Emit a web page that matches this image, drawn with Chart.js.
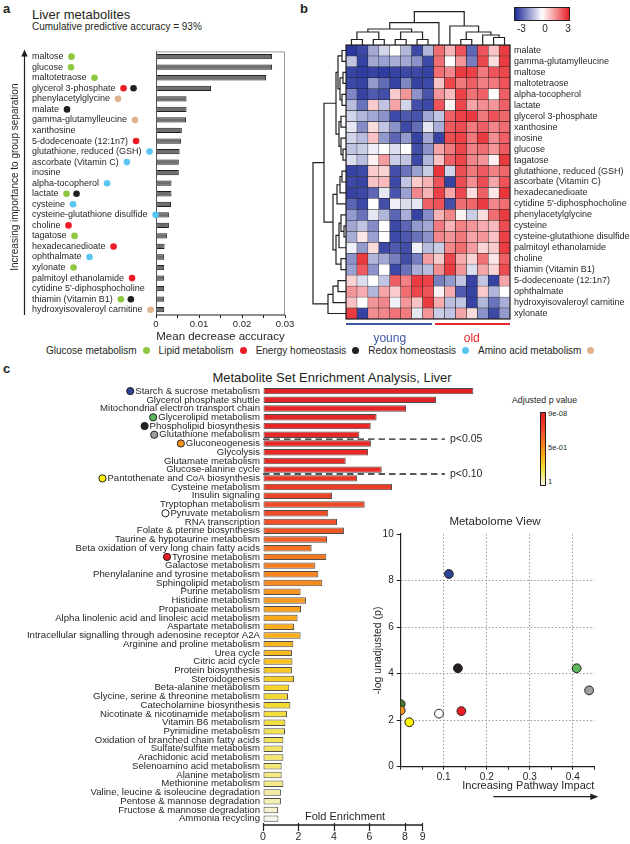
<!DOCTYPE html>
<html>
<head>
<meta charset="utf-8">
<script src="https://cdn.jsdelivr.net/npm/chart.js@4.4.1/dist/chart.umd.min.js"></script>
<style>
  body { margin: 0; background: #fff; font-family: "Liberation Sans", Arial, sans-serif; color: #231f20; }
  #page { position: relative; width: 630px; height: 844px; overflow: hidden; }
  #page canvas { position: absolute; }
  .t { position: absolute; line-height: 1; white-space: nowrap; }
  .letter { font-weight: bold; font-size: 13px; }
</style>
</head>
<body>
<div id="page">
  <!-- panel a -->
  <div class="t letter" style="left:3px;top:2px">a</div>
  <div class="t" style="left:32px;top:7.7px;font-size:13px">Liver metabolites</div>
  <div class="t" style="left:32px;top:22.3px;font-size:10px">Cumulative predictive accuracy = 93%</div>
  <canvas id="chartA" width="300" height="305" style="left:0;top:40px"></canvas>
  <div id="legendA" class="t" style="left:46px;top:345.5px;font-size:10px;display:flex;align-items:center"></div>

  <!-- panel b -->
  <div class="t letter" style="left:300px;top:2px">b</div>
  <canvas id="chartB" width="330" height="345" style="left:300px;top:0"></canvas>
  <canvas id="colTree" width="176" height="42" style="left:340px;top:6px"></canvas>
  <canvas id="rowTree" width="44" height="284" style="left:306px;top:40px"></canvas>
  <div id="heatBar" style="position:absolute;left:514px;top:7px;width:56px;height:14px;box-sizing:border-box;border:1px solid #231f20"></div>
  <div class="t" style="left:517px;top:24.1px;font-size:10px">-3</div>
  <div class="t" style="left:542.2px;top:24.1px;font-size:10px">0</div>
  <div class="t" style="left:565.2px;top:24.1px;font-size:10px">3</div>

  <!-- panel c -->
  <div class="t letter" style="left:3px;top:362px">c</div>
  <div class="t" style="left:132px;width:400px;text-align:center;top:370.5px;font-size:13px">Metabolite Set Enrichment Analysis, Liver</div>
  <canvas id="chartC" width="500" height="466" style="left:0;top:378px"></canvas>
  <div class="t" style="left:305px;top:811px;font-size:11px">Fold Enrichment</div>
  <div class="t" style="left:512px;top:396px;font-size:8.8px">Adjusted p value</div>
  <div id="pBar" style="position:absolute;left:540px;top:411.7px;width:6px;height:74px;box-sizing:border-box;border:1px solid #231f20"></div>
  <div class="t" style="left:548px;top:409.5px;font-size:7.5px">9e-08</div>
  <div class="t" style="left:548px;top:443.5px;font-size:7.5px">5e-01</div>
  <div class="t" style="left:548px;top:478px;font-size:7.5px">1</div>
  <div class="t" style="left:395px;width:200px;text-align:center;top:516px;font-size:11.5px">Metabolome View</div>
  <canvas id="chartD" width="270" height="295" style="left:360px;top:510px"></canvas>
</div>

<script>
const FONT = '"Liberation Sans", Arial, sans-serif';
const INK = '#231f20';
Chart.defaults.font.family = FONT;
Chart.defaults.color = INK;
Chart.defaults.animation = false;
Chart.defaults.plugins.legend.display = false;
Chart.defaults.plugins.tooltip.enabled = false;

// ---------- panel a data ----------
const metabolites = ['maltose', 'glucose', 'maltotetraose', 'glycerol 3-phosphate', 'phenylacetylglycine', 'malate',
  'gamma-glutamylleucine', 'xanthosine', '5-dodecenoate (12:1n7)', 'glutathione, reduced (GSH)', 'ascorbate (Vitamin C)',
  'inosine', 'alpha-tocopherol', 'lactate', 'cysteine', 'cysteine-glutathione disulfide', 'choline', 'tagatose',
  'hexadecanedioate', 'ophthalmate', 'xylonate', 'palmitoyl ethanolamide', 'cytidine 5\'-diphosphocholine',
  'thiamin (Vitamin B1)', 'hydroxyisovaleroyl carnitine'];
const meanDecreaseAccuracy = [0.027, 0.027, 0.0256, 0.0128, 0.0071, 0.0071, 0.0070, 0.0060, 0.0058, 0.0055, 0.0053,
  0.0053, 0.0036, 0.0036, 0.0035, 0.0030, 0.0030, 0.0026, 0.0020, 0.0019, 0.0019, 0.0019, 0.0019, 0.0019, 0.0019];
// 0 glucose, 1 lipid, 2 energy, 3 redox, 4 amino acid
const metaboliteTags = [[0], [0], [0], [1, 2], [4], [2], [4], [], [1], [3], [3], [], [3], [0, 2], [3], [3], [1], [0],
  [1], [3], [0], [1], [], [0, 2], [4]];
const tagNames = ['Glucose metabolism', 'Lipid metabolism', 'Energy homeostasis', 'Redox homeostasis', 'Amino acid metabolism'];
const tagColors = ['#8dc63f', '#ed1c24', '#231f20', '#5bc5f2', '#dfb48c'];
const sideTitle = 'Increasing importance to group separation';

// ---------- panel b data ----------
const heatRows = ['malate', 'gamma-glutamylleucine', 'maltose', 'maltotetraose', 'alpha-tocopherol', 'lactate',
  'glycerol 3-phosphate', 'xanthosine', 'inosine', 'glucose', 'tagatose', 'glutathione, reduced (GSH)',
  'ascorbate (Vitamin C)', 'hexadecanedioate', 'cytidine 5\'-diphosphocholine', 'phenylacetylglycine', 'cysteine',
  'cysteine-glutathione disulfide', 'palmitoyl ethanolamide', 'choline', 'thiamin (Vitamin B1)',
  '5-dodecenoate (12:1n7)', 'ophthalmate', 'hydroxyisovaleroyl carnitine', 'xylonate'];
const sampleGroups = ['young', 'old'];
const groupSizes = [8, 7];
const groupColors = ['#3d56a6', '#e8262b'];
const heatValues = [
  [-2.8, -2.5, -1.0, -0.4, 0.0, -0.8, -2.5, -0.8, 1.8, 0.8, 2.2, -2.0, 2.2, 0.6, 2.6],
  [-0.6, -2.6, -1.0, -1.1, -0.9, -1.0, -1.3, -2.5, 1.8, 0.0, 1.2, -1.6, 2.4, 0.3, 2.6],
  [-2.6, -2.7, -2.6, -2.7, -2.6, -2.5, -2.5, -2.6, 1.8, 1.4, 2.6, 2.5, 1.6, 2.2, 2.4],
  [-2.5, -2.6, -1.2, -1.9, -2.6, -1.5, -2.6, -2.5, 0.6, 2.4, 1.6, 2.0, 1.5, 1.6, 2.2],
  [-1.5, -2.6, -2.2, -2.4, 0.5, 1.2, -1.3, -2.3, 1.2, 0.7, 2.5, 1.7, 2.0, 0.0, 2.0],
  [-0.7, -1.8, 0.5, -0.6, 1.0, -0.4, -2.4, -2.5, 2.2, 0.1, 2.4, 1.0, 1.3, 1.2, 2.0],
  [-0.4, -0.8, -1.0, -1.3, -2.5, -2.2, -2.3, -1.0, -0.6, 2.0, 2.5, 2.6, 1.6, 2.2, 1.9],
  [-0.2, -1.4, 0.3, -0.6, -1.3, -2.5, -1.9, -0.2, -0.9, 2.1, 2.3, 1.6, 2.0, 1.4, 1.8],
  [-0.4, -0.7, 0.6, -1.2, -2.0, -1.2, -2.6, -1.0, -2.6, 2.3, 2.5, 1.6, 2.6, 1.3, 2.0],
  [-0.6, -0.5, -0.1, 0.0, -0.3, 0.0, -2.4, -1.3, 1.0, 1.6, 2.4, 1.5, 1.8, 1.2, 2.1],
  [-0.3, -0.7, 0.1, 1.1, -0.5, -0.6, -2.5, -0.8, 0.6, 2.0, 2.4, 1.4, 1.2, 0.1, 2.6],
  [-2.6, -2.5, 0.5, 0.4, -2.4, -1.8, -1.1, -0.5, 2.7, -0.4, 2.3, 1.6, 2.1, 1.5, 1.9],
  [-2.5, -2.6, 0.6, 0.7, -2.5, -0.6, 0.5, 0.8, 2.2, -2.6, 2.3, 1.3, 2.3, 1.0, 2.2],
  [-2.6, -2.5, -2.0, -0.2, -2.3, -1.1, 1.4, 0.8, 2.5, 1.0, 2.4, 0.3, 2.0, 0.2, 2.7],
  [-2.0, -2.5, 0.0, -2.4, -0.1, -0.3, -0.2, 2.0, 2.2, -2.4, 1.8, 1.9, 2.6, 1.4, 1.8],
  [-1.2, -1.8, -0.2, -0.8, -2.0, -0.9, -2.6, -1.4, 0.8, 1.4, 0.1, -0.5, 0.3, 1.8, 2.6],
  [-1.0, -0.6, -1.4, 0.0, -2.5, -2.0, -1.2, -1.0, 1.6, 0.8, 1.5, 1.2, 0.9, 0.7, 2.3],
  [-0.9, 0.2, -1.1, 0.0, -2.5, -2.2, -1.8, -1.3, 1.4, 1.2, 1.6, 1.0, 1.2, 0.6, 2.5],
  [-0.1, -1.2, 0.3, -2.5, -2.2, -2.4, -0.1, -0.7, -0.5, 1.4, 1.8, 1.1, 0.4, 0.5, 2.6],
  [-1.3, 2.6, -0.8, -1.0, -1.6, -2.4, -1.6, 1.1, 0.5, 2.4, 0.9, 0.4, 1.7, 0.2, 2.0],
  [-1.1, 2.1, -1.3, 0.0, -2.5, -1.8, -0.9, -0.7, 1.3, 2.6, 1.2, -0.3, 1.0, 0.4, 2.3],
  [0.4, -0.3, 0.0, -0.6, 2.0, 1.5, 2.6, 2.5, -1.6, -1.2, -0.6, -2.6, -0.6, -2.6, 1.0],
  [1.2, 0.9, -0.8, 1.0, 0.5, 1.8, 2.4, 2.2, 0.1, 0.9, -2.2, -2.6, 0.5, -0.8, 0.0],
  [0.6, 0.0, 1.2, 1.4, -0.1, 1.2, 0.6, 2.6, 0.9, -0.7, -0.6, -2.6, -0.8, -1.8, -0.9],
  [2.6, -2.6, 1.3, 1.4, 1.7, 1.6, -0.2, 1.2, -0.5, -0.6, 1.0, 0.3, -1.3, -2.5, -1.2]
];
// dendrogram merges [childA, childB, height]; leaves first, new nodes numbered after them
const colMerges = [[0, 1, 5.5], [2, 3, 5.5], [4, 5, 5.5], [6, 7, 5.5], [15, 16, 13], [17, 18, 13], [19, 20, 16],
  [21, 8, 22.3], [10, 11, 5.5], [13, 14, 7.5], [12, 24, 10], [23, 25, 13], [9, 26, 19], [22, 27, 33.3]];
const rowMerges = [[0, 1, 4], [2, 3, 3], [4, 5, 4], [26, 27, 6], [25, 28, 8], [6, 7, 5], [9, 10, 3], [8, 31, 5],
  [30, 32, 7], [29, 33, 10], [11, 12, 4], [35, 13, 6], [36, 14, 9], [16, 17, 2], [15, 38, 5], [39, 18, 7],
  [19, 20, 5], [40, 41, 10], [37, 42, 13], [34, 43, 22], [21, 22, 8], [45, 23, 13], [46, 24, 18], [44, 47, 33]];

// ---------- panel c data ----------
const pathways = ['Starch & sucrose metabolism', 'Glycerol phosphate shuttle', 'Mitochondrial electron transport chain',
  'Glycerolipid metabolism', 'Phospholipid biosynthesis', 'Glutathione metabolism', 'Gluconeogenesis', 'Glycolysis',
  'Glutamate metabolism', 'Glucose-alanine cycle', 'Pantothenate and CoA biosynthesis', 'Cysteine metabolism',
  'Insulin signaling', 'Tryptophan metabolism', 'Pyruvate metabolism', 'RNA transcription',
  'Folate & pterine biosynthesis', 'Taurine & hypotaurine metabolism', 'Beta oxidation of very long chain fatty acids',
  'Tyrosine metabolism', 'Galactose metabolism', 'Phenylalanine and tyrosine metabolism', 'Sphingolipid metabolism',
  'Purine metabolism', 'Histidine metabolism', 'Propanoate metabolism',
  'Alpha linolenic acid and linoleic acid metabolism', 'Aspartate metabolism',
  'Intracellular signalling through adenosine receptor A2A', 'Arginine and proline metabolism', 'Urea cycle',
  'Citric acid cycle', 'Protein biosynthesis', 'Steroidogenesis', 'Beta-alanine metabolism',
  'Glycine, serine & threonine metabolism', 'Catecholamine biosynthesis', 'Nicotinate & nicotinamide metabolism',
  'Vitamin B6 metabolism', 'Pyrimidine metabolism', 'Oxidation of branched chain fatty acids',
  'Sulfate/sulfite metabolism', 'Arachidonic acid metabolism', 'Selenoamino acid metabolism', 'Alanine metabolism',
  'Methionine metabolism', 'Valine, leucine & isoleucine degradation', 'Pentose & mannose degradation',
  'Fructose & mannose degradation', 'Ammonia recycling'];
const foldEnrichment = [11.85, 9.75, 8.06, 6.4, 6.07, 5.43, 6.08, 5.92, 4.66, 6.69, 5.3, 7.27, 3.89, 5.73, 3.68,
  4.17, 4.56, 3.61, 2.74, 3.57, 2.95, 3.12, 3.34, 2.12, 2.42, 2.14, 1.95, 1.75, 2.12, 1.71, 1.63, 1.66, 1.63, 1.75,
  1.48, 1.41, 1.54, 1.35, 1.26, 1.24, 1.15, 1.11, 1.15, 1.05, 1.05, 1.15, 1.01, 1.01, 0.85, 0.87];
const adjustedP = [0.0, 0.01, 0.02, 0.03, 0.04, 0.05, 0.06, 0.07, 0.08, 0.09, 0.16, 0.19, 0.21, 0.23, 0.25, 0.27,
  0.29, 0.32, 0.38, 0.4, 0.42, 0.44, 0.46, 0.5, 0.52, 0.55, 0.57, 0.59, 0.6, 0.62, 0.64, 0.66, 0.68, 0.7, 0.72, 0.74,
  0.75, 0.77, 0.78, 0.8, 0.81, 0.82, 0.84, 0.85, 0.87, 0.88, 0.91, 0.93, 0.96, 0.99];
const foldTicks = [0, 2, 4, 6, 8, 9];
const pCutoffs = [{ below: 6, label: 'p<0.05' }, { below: 10, label: 'p<0.10' }];

// metabolome view
const viewSets = ['unlabelled set', 'Starch & sucrose metabolism', 'Phospholipid biosynthesis', 'Glycerolipid metabolism',
  'Glutathione metabolism', 'Gluconeogenesis', 'Pantothenate and CoA biosynthesis', 'Pyruvate metabolism',
  'Tyrosine metabolism'];
const pathwayImpact = [0.0, 0.112, 0.133, 0.409, 0.438, 0.0, 0.02, 0.089, 0.141];
const negLogP = [2.69, 8.28, 4.23, 4.23, 3.28, 2.42, 1.91, 2.28, 2.39];
const viewColors = ['#4a7c2c', '#2e4595', '#231f20', '#5cb85c', '#a0a0a0', '#f7941d', '#fff200', '#ffffff', '#ed1c24'];

// ---------- helpers ----------
const mix = (c0, c1, t) => c0.map((v, k) => Math.round(v + (c1[k] - v) * t));
const rgb = c => `rgb(${c[0]},${c[1]},${c[2]})`;
const BLUE = [30, 44, 152], WHITE = [255, 255, 255], RED = [232, 35, 42];
function heatColor(v) {
  const t = Math.max(-1, Math.min(1, v / 3));
  const s = Math.pow(Math.abs(t), 0.8);
  return rgb(t < 0 ? mix(WHITE, BLUE, s) : mix(WHITE, RED, s));
}
const pStops = [[0, [228, 34, 38]], [0.15, [234, 52, 38]], [0.3, [240, 90, 40]], [0.45, [246, 135, 31]],
  [0.6, [250, 175, 26]], [0.75, [244, 220, 45]], [0.9, [244, 236, 150]], [1, [246, 246, 242]]];
function pColor(p) {
  for (let k = 1; k < pStops.length; k++) {
    if (p <= pStops[k][0]) {
      const [p0, c0] = pStops[k - 1], [p1, c1] = pStops[k];
      return rgb(mix(c0, c1, (p - p0) / (p1 - p0)));
    }
  }
  return rgb(pStops[pStops.length - 1][1]);
}
document.getElementById('heatBar').style.background = `linear-gradient(to right, ${rgb(BLUE)}, #fff, ${rgb(RED)})`;
document.getElementById('pBar').style.background =
  `linear-gradient(to bottom, ${pStops.map(s => rgb(s[1]) + ' ' + s[0] * 100 + '%').join(', ')})`;

// legend under panel a
const legendEl = document.getElementById('legendA');
tagNames.forEach((name, k) => {
  legendEl.insertAdjacentHTML('beforeend', `<span>${name}</span><span style="display:inline-block;width:7px;height:7px;border-radius:50%;background:${tagColors[k]};margin:0 9px 0 6px"></span>`);
});

// ---------- panel a ----------
const aFontSize = 9;
const panelAExtras = {
  id: 'panelAExtras',
  afterDraw(chart) {
    const { ctx, chartArea: a, scales: { y } } = chart;
    ctx.save();
    // frame
    ctx.lineWidth = 1;
    ctx.strokeStyle = '#9a9a9a';
    ctx.beginPath();
    ctx.moveTo(a.left, a.top + 0.5); ctx.lineTo(a.right - 0.5, a.top + 0.5); ctx.lineTo(a.right - 0.5, a.bottom);
    ctx.stroke();
    ctx.strokeStyle = '#555';
    ctx.beginPath(); ctx.moveTo(a.left + 0.5, a.top); ctx.lineTo(a.left + 0.5, a.bottom); ctx.stroke();
    ctx.strokeStyle = INK; ctx.lineWidth = 1.2;
    ctx.beginPath(); ctx.moveTo(a.left, a.bottom); ctx.lineTo(a.right, a.bottom); ctx.stroke();
    // category dots after labels
    ctx.font = `${aFontSize}px ${FONT}`;
    metabolites.forEach((m, i) => {
      const yy = y.getPixelForValue(i);
      let xx = y.left + ctx.measureText(m).width + 8;
      metaboliteTags[i].forEach(tag => {
        ctx.beginPath(); ctx.arc(xx, yy, 3.3, 0, Math.PI * 2);
        ctx.fillStyle = tagColors[tag]; ctx.fill();
        xx += 10;
      });
    });
    // importance arrow and side title
    ctx.strokeStyle = INK; ctx.fillStyle = INK; ctx.lineWidth = 1.2;
    ctx.beginPath(); ctx.moveTo(24.5, a.bottom); ctx.lineTo(24.5, a.top + 3); ctx.stroke();
    ctx.beginPath(); ctx.moveTo(24.5, a.top - 2); ctx.lineTo(21.3, a.top + 5); ctx.lineTo(27.7, a.top + 5);
    ctx.closePath(); ctx.fill();
    ctx.translate(15, (a.top + a.bottom) / 2 - 6);
    ctx.rotate(-Math.PI / 2);
    ctx.font = `10px ${FONT}`; ctx.textAlign = 'center'; ctx.textBaseline = 'middle';
    ctx.fillText(sideTitle, 0, 0);
    ctx.restore();
  }
};

new Chart(document.getElementById('chartA'), {
  type: 'bar',
  data: {
    labels: metabolites,
    datasets: [{
      data: meanDecreaseAccuracy, backgroundColor: '#6d6e71', borderColor: INK, borderWidth: 1,
      borderSkipped: false, barPercentage: 0.5, categoryPercentage: 1
    }]
  },
  options: {
    indexAxis: 'y', responsive: false,
    layout: { padding: { left: 32, top: 8, right: 15, bottom: 0 } },
    scales: {
      x: {
        min: 0, max: 0.03,
        ticks: {
          stepSize: 0.005, autoSkip: false, maxRotation: 0, padding: 1, font: { size: 9.5 }, color: INK,
          callback: v => { const k = Math.round(v * 1000); return k % 10 ? '' : (k === 0 ? '0' : (k / 1000).toFixed(2)); }
        },
        grid: { drawOnChartArea: false, tickLength: 3, tickColor: INK, color: INK },
        border: { display: false },
        title: { display: true, text: 'Mean decrease accuracy', font: { size: 11.5 }, padding: { top: 0, bottom: 1 } },
        afterFit: s => { s.height = 30; }
      },
      y: {
        ticks: { crossAlign: 'far', autoSkip: false, padding: 6, font: { size: aFontSize }, color: INK },
        grid: { display: false, drawTicks: false },
        border: { display: false },
        afterFit: s => { s.width = 124; }
      }
    }
  },
  plugins: [panelAExtras]
});

// ---------- panel b ----------
const nCols = groupSizes.reduce((s, v) => s + v, 0);
const heatDatasets = [];
for (let j = 0; j < nCols; j++) {
  heatDatasets.push({
    stack: 'heat', data: heatRows.map(() => 1),
    backgroundColor: heatRows.map((_, i) => heatColor(heatValues[i][j])),
    borderColor: '#1a1a1a', borderWidth: 0.5, borderSkipped: false, barPercentage: 1, categoryPercentage: 1
  });
}
let groupStart = 0;
const groupCenters = groupSizes.map(n => { const c = groupStart + n / 2; groupStart += n; return c; });

const panelBExtras = {
  id: 'panelBExtras',
  afterDraw(chart) {
    const { ctx, chartArea: a, scales: { x } } = chart;
    ctx.save();
    ctx.strokeStyle = INK; ctx.lineWidth = 1.2;
    ctx.strokeRect(a.left, a.top, a.right - a.left, a.bottom - a.top);
    ctx.lineWidth = 2.2;
    let start = 0;
    sampleGroups.forEach((g, k) => {
      const end = start + groupSizes[k];
      ctx.strokeStyle = groupColors[k];
      ctx.beginPath();
      ctx.moveTo(x.getPixelForValue(start) + (k ? 1.5 : 0), a.bottom + 5);
      ctx.lineTo(x.getPixelForValue(end) - (k ? 0 : 1.5), a.bottom + 5);
      ctx.stroke();
      start = end;
    });
    ctx.restore();
  }
};

new Chart(document.getElementById('chartB'), {
  type: 'bar',
  data: { labels: heatRows, datasets: heatDatasets },
  options: {
    indexAxis: 'y', responsive: false,
    layout: { padding: { left: 46, top: 45, right: 0, bottom: 0 } },
    scales: {
      x: {
        type: 'linear', stacked: true, min: 0, max: nCols,
        afterBuildTicks: axis => { axis.ticks = groupCenters.map(v => ({ value: v })); },
        ticks: { autoSkip: false, maxRotation: 0, padding: 12, font: { size: 12 },
          color: c => groupColors[c.index], callback: (v, i) => sampleGroups[i] },
        grid: { display: false, drawTicks: false },
        border: { display: false },
        afterFit: s => { s.height = 26; }
      },
      y: {
        position: 'right', stacked: true,
        ticks: { autoSkip: false, padding: 4, font: { size: 9 }, color: INK },
        grid: { display: false, drawTicks: false },
        border: { display: false },
        afterFit: s => { s.width = 120; }
      }
    }
  },
  plugins: [panelBExtras]
});

// dendrograms: each merge drawn as a bracket through linear scales
function dendroSegments(nLeaves, merges) {
  const pos = [], hgt = [];
  for (let i = 0; i < nLeaves; i++) { pos.push(i + 0.5); hgt.push(0); }
  return merges.map(([a, b, h]) => {
    const seg = [[pos[a], hgt[a]], [pos[a], h], [pos[b], h], [pos[b], hgt[b]]];
    pos.push((pos[a] + pos[b]) / 2); hgt.push(h);
    return seg;
  });
}
const treeLine = { showLine: true, borderColor: INK, borderWidth: 1.2, pointRadius: 0, clip: false, tension: 0 };
const hidden = extra => Object.assign({ type: 'linear', display: false }, extra);
const maxColH = Math.max(...colMerges.map(m => m[2]));
const maxRowH = Math.max(...rowMerges.map(m => m[2]));

new Chart(document.getElementById('colTree'), {
  type: 'scatter',
  data: { datasets: dendroSegments(nCols, colMerges).map(seg =>
    Object.assign({ data: seg.map(([p, h]) => ({ x: p, y: h })) }, treeLine)) },
  options: {
    responsive: false,
    layout: { padding: { left: 6, right: 6, top: 5.7, bottom: 3 } },
    scales: { x: hidden({ min: 0, max: nCols }), y: hidden({ min: 0, max: maxColH }) }
  }
});

new Chart(document.getElementById('rowTree'), {
  type: 'scatter',
  data: { datasets: dendroSegments(heatRows.length, rowMerges).map(seg =>
    Object.assign({ data: seg.map(([p, h]) => ({ x: h, y: p })) }, treeLine)) },
  options: {
    responsive: false,
    layout: { padding: { left: 7, right: 4, top: 5, bottom: 5 } },
    scales: { x: hidden({ min: 0, max: maxRowH, reverse: true }), y: hidden({ min: 0, max: heatRows.length, reverse: true }) }
  }
});

// ---------- panel c ----------
const cFontSize = 9.6;
const panelCExtras = {
  id: 'panelCExtras',
  afterDraw(chart) {
    const { ctx, chartArea: a, scales: { x, y } } = chart;
    ctx.save();
    // fold enrichment axis line
    ctx.strokeStyle = INK; ctx.lineWidth = 1.3;
    ctx.beginPath();
    ctx.moveTo(x.getPixelForValue(foldTicks[0]), a.bottom + 2);
    ctx.lineTo(x.getPixelForValue(foldTicks[foldTicks.length - 1]), a.bottom + 2);
    ctx.stroke();
    // significance cut-offs
    ctx.setLineDash([6.5, 4]);
    ctx.font = `10.5px ${FONT}`; ctx.fillStyle = INK; ctx.textBaseline = 'middle';
    pCutoffs.forEach(c => {
      const yy = y.getPixelForValue(c.below - 0.5);
      const xEnd = x.getPixelForValue(10.25);
      ctx.beginPath(); ctx.moveTo(a.left, yy); ctx.lineTo(xEnd, yy); ctx.stroke();
      ctx.fillText(c.label, xEnd + 5, yy);
    });
    ctx.setLineDash([]);
    // markers in front of the labels that appear in the metabolome view
    ctx.font = `${cFontSize}px ${FONT}`;
    const xr = y.right - y.options.ticks.padding;
    pathways.forEach((p, i) => {
      const k = viewSets.indexOf(p);
      if (k < 0) return;
      const xx = xr - ctx.measureText(p).width - 5;
      ctx.beginPath(); ctx.arc(xx, y.getPixelForValue(i), 3.6, 0, Math.PI * 2);
      ctx.fillStyle = viewColors[k]; ctx.fill();
      ctx.lineWidth = 1; ctx.strokeStyle = INK; ctx.stroke();
    });
    ctx.restore();
  }
};

new Chart(document.getElementById('chartC'), {
  type: 'bar',
  data: {
    labels: pathways,
    datasets: [{
      data: foldEnrichment, backgroundColor: adjustedP.map(pColor), borderColor: '#4d4d4f', borderWidth: 1,
      borderSkipped: false, barPercentage: 0.74, categoryPercentage: 1
    }]
  },
  options: {
    indexAxis: 'y', responsive: false,
    layout: { padding: { left: 0, top: 7.6, right: 24, bottom: 0 } },
    scales: {
      x: {
        min: 0, max: 12,
        afterBuildTicks: axis => { axis.ticks = foldTicks.map(v => ({ value: v })); },
        ticks: { autoSkip: false, maxRotation: 0, padding: 0, font: { size: 10.5 }, color: INK },
        grid: { drawOnChartArea: false, tickLength: 8, tickColor: INK, tickWidth: 1.2, color: INK },
        border: { display: false },
        afterFit: s => { s.height = 21; }
      },
      y: {
        ticks: { autoSkip: false, padding: 3, font: { size: cFontSize }, color: INK },
        grid: { display: false, drawTicks: false },
        border: { display: false },
        afterFit: s => { s.width = 263; }
      }
    }
  },
  plugins: [panelCExtras]
});

// ---------- metabolome view ----------
const isMajor = (v, step) => { const k = Math.round(v / step); return k > 0 && Math.abs(v - k * step) < 1e-6; };
const viewArrow = {
  id: 'viewArrow',
  afterDraw(chart) {
    const { ctx, chartArea: a } = chart;
    const yy = 286.7;
    ctx.save();
    ctx.strokeStyle = INK; ctx.fillStyle = INK; ctx.lineWidth = 1.2;
    ctx.beginPath(); ctx.moveTo(a.right - 101, yy); ctx.lineTo(a.right - 2, yy); ctx.stroke();
    ctx.beginPath(); ctx.moveTo(a.right + 4, yy); ctx.lineTo(a.right - 4, yy - 3.2); ctx.lineTo(a.right - 4, yy + 3.2);
    ctx.closePath(); ctx.fill();
    ctx.restore();
  }
};

new Chart(document.getElementById('chartD'), {
  type: 'scatter',
  data: {
    datasets: [{
      data: pathwayImpact.map((v, i) => ({ x: v, y: negLogP[i] })),
      pointBackgroundColor: viewColors, pointBorderColor: INK, pointBorderWidth: 1, pointRadius: 4.4
    }]
  },
  options: {
    responsive: false,
    layout: { padding: { left: 0, top: 24, right: 35.7, bottom: 0 } },
    scales: {
      x: {
        min: 0, max: 0.45,
        ticks: { stepSize: 0.05, autoSkip: false, maxRotation: 0, padding: 2, font: { size: 10 }, color: INK,
          callback: v => isMajor(v, 0.1) ? (Math.round(v * 10) / 10).toFixed(1) : '' },
        grid: { color: c => isMajor(c.tick.value, 0.1) ? '#9a9a9a' : 'rgba(0,0,0,0)', tickColor: INK, tickLength: 3 },
        border: { color: INK, width: 1.2, dash: [1.5, 2] },
        title: { display: true, text: 'Increasing Pathway Impact', align: 'end', font: { size: 11 },
          padding: { top: 0, bottom: 12.7 } },
        afterFit: s => { s.height = 38.3; }
      },
      y: {
        min: 0, max: 10,
        ticks: { stepSize: 2, padding: 3, font: { size: 10 }, color: INK },
        grid: { color: c => (c.tick.value > 0 && c.tick.value < 10) ? '#9a9a9a' : 'rgba(0,0,0,0)',
          tickColor: INK, tickLength: 4 },
        border: { color: INK, width: 1.2, dash: [1.5, 2] },
        title: { display: true, text: '-log unadjusted (p)', font: { size: 10.5 }, padding: { top: 12, bottom: 0 } },
        afterFit: s => { s.width = 40.7; }
      }
    }
  },
  plugins: [viewArrow]
});
</script>
</body>
</html>
